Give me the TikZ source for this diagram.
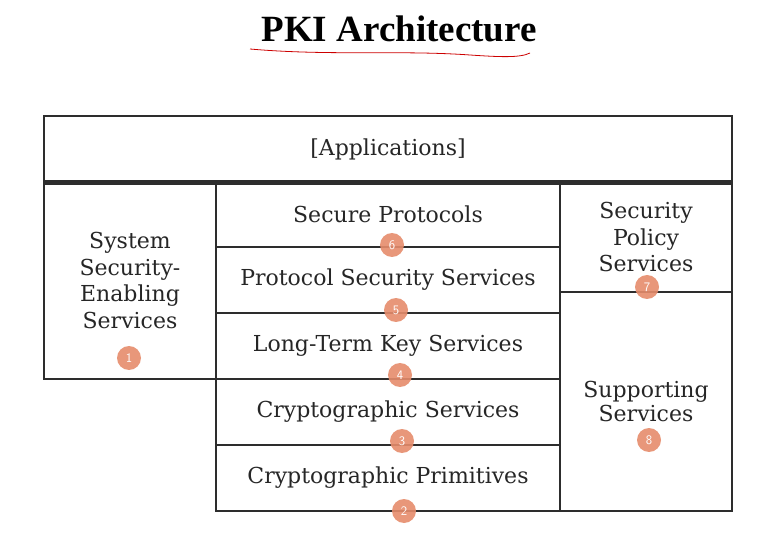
\documentclass[tikz,border=0pt]{standalone}
\usepackage{fontspec}
\newfontfamily\titlefont{Liberation Serif}
\newfontfamily\boxfont{DejaVu Serif}
\usepackage{tikz}
\usetikzlibrary{positioning, calc}
\definecolor{badge}{RGB}{230,140,108}
\definecolor{rule}{RGB}{45,45,45}
\tikzstyle{layer} = [rectangle, draw=rule, line width=1.4pt, inner sep=0pt, align=center, font=\boxfont\fontsize{22}{26.5}\selectfont, text=black!85]
\tikzstyle{num} = [circle, fill=badge, opacity=0.9, text opacity=1, text=white, minimum size=24pt, inner sep=0pt, font=\sffamily\fontsize{13}{13}\selectfont]

\begin{document}
\begin{tikzpicture}[x=1pt, y=-1pt]
    \useasboundingbox (0,0) rectangle (782,545);
    \node (title) at (399,29) {\titlefont\bfseries\fontsize{37}{40}\selectfont PKI Architecture};
    \draw [red!80!black, line width=0.8pt] (250,49) .. controls (330,56) and (400,50) .. (470,55) .. controls (500,57) and (520,58) .. (530,53);
    
    \node (apps) [layer, minimum width=688pt, minimum height=66pt] at (388,149) {[Applications]};
    \node (sysenable) [layer, minimum width=172pt, minimum height=197pt] at (130,280.5) {System\\Security-\\Enabling\\Services};
    
    \node (secproto) [layer, minimum width=344pt, minimum height=65pt] at (388,214.5) {Secure Protocols};
    \node (protosec) [layer, minimum width=344pt, minimum height=66pt] at (388,280) {Protocol Security Services};
    \node (longterm) [layer, minimum width=344pt, minimum height=66pt] at (388,346) {Long-Term Key Services};
    \node (cryptserv) [layer, minimum width=344pt, minimum height=66pt] at (388,412) {Cryptographic Services};
    \node (cryptprim) [layer, minimum width=344pt, minimum height=66pt] at (388,478) {Cryptographic Primitives};
    
    \node (secpol) [layer, minimum width=172pt, minimum height=110pt] at (646,237) {Security\\Policy\\Services};
    \node (support) [layer, minimum width=172pt, minimum height=219pt] at (646,401.5) {Supporting\\[-2pt]Services};
    
    \draw [rule, line width=5pt] (apps.south west) -- (apps.south east);
    
    \node (n1) [num] at (129,358) {1};
    \node (n2) [num] at (404,511) {2};
    \node (n3) [num] at (402,441) {3};
    \node (n4) [num] at (400,375) {4};
    \node (n5) [num] at (396,310) {5};
    \node (n6) [num] at (392,245) {6};
    \node (n7) [num] at (647,287) {7};
    \node (n8) [num] at (649,440) {8};
\end{tikzpicture}
\end{document}
